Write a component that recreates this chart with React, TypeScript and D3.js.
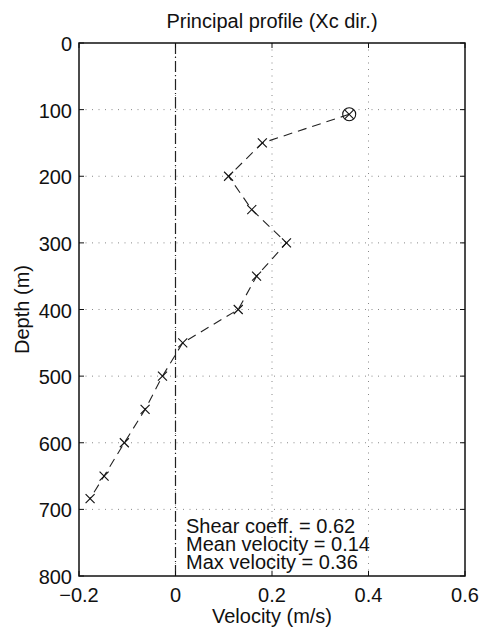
import React from "react";
import * as d3 from "d3";

const velocity = [0.36, 0.18, 0.11, 0.158, 0.23, 0.168, 0.13, 0.015, -0.027, -0.063, -0.106, -0.148, -0.177];
const depth = [107, 150, 200, 250, 300, 350, 400, 450, 500, 550, 600, 650, 684];
const xTicks = [-0.2, 0, 0.2, 0.4, 0.6];
const xTickLabels = ["\u22120.2", "0", "0.2", "0.4", "0.6"];
const yTicks = [0, 100, 200, 300, 400, 500, 600, 700, 800];
const annotations = ["Shear coeff. = 0.62", "Mean velocity = 0.14", "Max velocity = 0.36"];
const title = "Principal profile (Xc dir.)";
const xLabel = "Velocity (m/s)";
const yLabel = "Depth (m)";

const W = 482, H = 635;
const m = { left: 79, right: 465, top: 43, bottom: 576 };
const FONT = "Liberation Sans, Arial, sans-serif";
const FS = 20;

export default function App() {
  const x = d3.scaleLinear().domain([-0.2, 0.6]).range([m.left, m.right]);
  const y = d3.scaleLinear().domain([0, 800]).range([m.top, m.bottom]);
  const pts = velocity.map((v, i) => [v, depth[i]] as [number, number]);
  const line = d3.line<[number, number]>().x(d => x(d[0])).y(d => y(d[1]));
  const tl = 5;
  const maxI = d3.maxIndex(velocity);
  return (
    <svg width={W} height={H} style={{ position: "absolute", left: 0, top: 0, background: "#fff" }} fontFamily={FONT}>
      <rect width={W} height={H} fill="#fff" />
      {/* grid */}
      {xTicks.slice(1, -1).map(t => (
        <line key={"gx" + t} x1={x(t)} x2={x(t)} y1={m.top} y2={m.bottom} stroke="#888" strokeWidth={1} strokeDasharray="1,5.5" />
      ))}
      {yTicks.slice(1, -1).map(t => (
        <line key={"gy" + t} x1={m.left} x2={m.right} y1={y(t)} y2={y(t)} stroke="#888" strokeWidth={1} strokeDasharray="1,5.5" />
      ))}
      {/* zero line */}
      <line x1={x(0)} x2={x(0)} y1={m.top} y2={m.bottom} stroke="#222" strokeWidth={1.2} strokeDasharray="11,3,1,3" />
      {/* profile */}
      <path d={line(pts) || ""} fill="none" stroke="#222" strokeWidth={1.1} strokeDasharray="9,6" />
      {pts.map((p, i) => {
        const cx = x(p[0]), cy = y(p[1]);
        const s = 4.5;
        return (
          <g key={"m" + i} stroke="#111" strokeWidth={1.1}>
            <line x1={cx - s} y1={cy - s} x2={cx + s} y2={cy + s} />
            <line x1={cx - s} y1={cy + s} x2={cx + s} y2={cy - s} />
            {i === maxI && <circle cx={cx} cy={cy} r={6.5} fill="none" />}
          </g>
        );
      })}
      {/* frame */}
      <rect x={m.left} y={m.top} width={m.right - m.left} height={m.bottom - m.top} fill="none" stroke="#111" strokeWidth={1.5} />
      {xTicks.map(t => (
        <g key={"tx" + t} stroke="#111" strokeWidth={1}>
          <line x1={x(t)} x2={x(t)} y1={m.bottom} y2={m.bottom - tl} />
          <line x1={x(t)} x2={x(t)} y1={m.top} y2={m.top + tl} />
        </g>
      ))}
      {yTicks.map(t => (
        <g key={"ty" + t} stroke="#111" strokeWidth={1}>
          <line x1={m.left} x2={m.left + tl} y1={y(t)} y2={y(t)} />
          <line x1={m.right} x2={m.right - tl} y1={y(t)} y2={y(t)} />
        </g>
      ))}
      {xTicks.map((t, i) => (
        <text key={"lx" + t} x={x(t)} y={m.bottom + 26} textAnchor="middle" fontSize={FS} fill="#111">{xTickLabels[i]}</text>
      ))}
      {yTicks.map(t => (
        <text key={"ly" + t} x={m.left - 7} y={y(t) + 8} textAnchor="end" fontSize={FS} fill="#111">{t}</text>
      ))}
      <text x={(m.left + m.right) / 2} y={28} textAnchor="middle" fontSize={FS} fill="#111">{title}</text>
      <text x={(m.left + m.right) / 2} y={623} textAnchor="middle" fontSize={FS} fill="#111">{xLabel}</text>
      <text transform={`translate(29,${(m.top + m.bottom) / 2}) rotate(-90)`} textAnchor="middle" fontSize={FS} fill="#111">{yLabel}</text>
      {annotations.map((a, i) => (
        <text key={"a" + i} x={186} y={533 + i * 18} fontSize={FS} fill="#111">{a}</text>
      ))}
    </svg>
  );
}
